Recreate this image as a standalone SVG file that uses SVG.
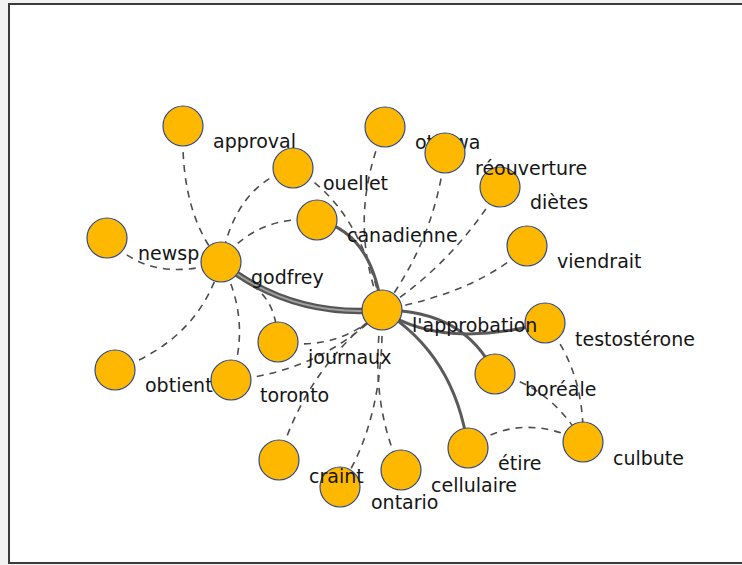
<svg xmlns="http://www.w3.org/2000/svg" width="742" height="565" viewBox="0 0 742 565">
<style>
.frame{fill:#ffffff;stroke:#3a3a3a;stroke-width:2}
.d{fill:none;stroke:#4d4d4d;stroke-width:1.6;stroke-dasharray:7 6}
.s{fill:none;stroke:#5a5a5a;stroke-width:3}
.t1{fill:none;stroke:#555;stroke-width:6.5}
.t2{fill:none;stroke:#a0a0a0;stroke-width:1.8}
.n{fill:#ffb800;stroke:#2f4a8a;stroke-width:1.2}
.l{font-family:"DejaVu Sans",Verdana,sans-serif;font-size:19px;fill:#151515}
</style>
<rect x="0" y="0" width="742" height="565" fill="#f2f2f2"/>
<rect class="frame" x="9" y="4" width="760" height="559"/>
<g id="connectors">
<path class="d" d="M183,126 Q180,215 221,262"/>
<path class="d" d="M293,168 Q235,185 221,262"/>
<path class="d" d="M317,220 Q255,215 221,262"/>
<path class="d" d="M107,238 Q150,285 221,262"/>
<path class="d" d="M115,370 Q200,340 221,262"/>
<path class="d" d="M231,380 Q252,320 221,262"/>
<path class="d" d="M221,262 C255,290 275,290 278,342"/>
<path class="d" d="M293,168 Q360,205 382,310"/>
<path class="d" d="M385,127 Q345,220 382,310"/>
<path class="d" d="M445,153 Q435,240 382,310"/>
<path class="d" d="M500,187 Q455,262 382,310"/>
<path class="d" d="M527,246 Q480,292 382,310"/>
<path class="d" d="M278,342 Q340,352 382,310"/>
<path class="d" d="M231,380 Q320,372 382,310"/>
<path class="d" d="M279,460 Q305,370 382,310"/>
<path class="d" d="M382,310 Q385,420 340,487"/>
<path class="d" d="M382,310 Q368,400 401,470"/>
<path class="d" d="M545,323 Q585,370 583,442"/>
<path class="d" d="M495,374 Q550,385 583,442"/>
<path class="d" d="M468,448 Q520,410 583,442"/>
<path class="t1" d="M221,262 Q290,318 382,310"/>
<path class="t2" d="M221,262 Q290,318 382,310"/>
<path class="s" d="M317,220 Q372,232 382,310"/>
<path class="s" d="M382,310 Q440,350 545,323"/>
<path class="s" d="M382,310 Q465,310 495,374"/>
<path class="s" d="M382,310 Q455,355 468,448"/>
</g>
<g id="n-approval"><circle class="n" cx="183" cy="126" r="20"/><text class="l" x="213" y="148">approval</text></g>
<g id="n-ouellet"><circle class="n" cx="293" cy="168" r="20"/><text class="l" x="323" y="190">ouellet</text></g>
<g id="n-dietes"><circle class="n" cx="500" cy="187" r="20"/><text class="l" x="530" y="209">diètes</text></g>
<g id="n-ottawa"><circle class="n" cx="385" cy="127" r="20"/><text class="l" x="415" y="149">ottawa</text></g>
<g id="n-reouverture"><circle class="n" cx="445" cy="153" r="20"/><text class="l" x="475" y="175">réouverture</text></g>
<g id="n-viendrait"><circle class="n" cx="527" cy="246" r="20"/><text class="l" x="557" y="268">viendrait</text></g>
<g id="n-newsp"><circle class="n" cx="107" cy="238" r="20"/><text class="l" x="138" y="260">newsp</text></g>
<g id="n-godfrey"><circle class="n" cx="221" cy="262" r="20"/><text class="l" x="251" y="284">godfrey</text></g>
<g id="n-canadienne"><circle class="n" cx="317" cy="220" r="20"/><text class="l" x="347" y="242">canadienne</text></g>
<g id="n-journaux"><circle class="n" cx="278" cy="342" r="20"/><text class="l" x="308" y="364">journaux</text></g>
<g id="n-obtient"><circle class="n" cx="115" cy="370" r="20"/><text class="l" x="145" y="392">obtient</text></g>
<g id="n-toronto"><circle class="n" cx="231" cy="380" r="20"/><text class="l" x="260" y="402">toronto</text></g>
<g id="n-testosterone"><circle class="n" cx="545" cy="323" r="20"/><text class="l" x="575" y="346">testostérone</text></g>
<g id="n-approbation"><circle class="n" cx="382" cy="310" r="20"/><text class="l" x="412" y="332">l'approbation</text></g>
<g id="n-boreale"><circle class="n" cx="495" cy="374" r="20"/><text class="l" x="525" y="396">boréale</text></g>
<g id="n-culbute"><circle class="n" cx="583" cy="442" r="20"/><text class="l" x="613" y="465">culbute</text></g>
<g id="n-etire"><circle class="n" cx="468" cy="448" r="20"/><text class="l" x="498" y="470">étire</text></g>
<g id="n-cellulaire"><circle class="n" cx="401" cy="470" r="20"/><text class="l" x="431" y="492">cellulaire</text></g>
<g id="n-ontario"><circle class="n" cx="340" cy="487" r="20"/><text class="l" x="371" y="509">ontario</text></g>
<g id="n-craint"><circle class="n" cx="279" cy="460" r="20"/><text class="l" x="309" y="483">craint</text></g>
</svg>
